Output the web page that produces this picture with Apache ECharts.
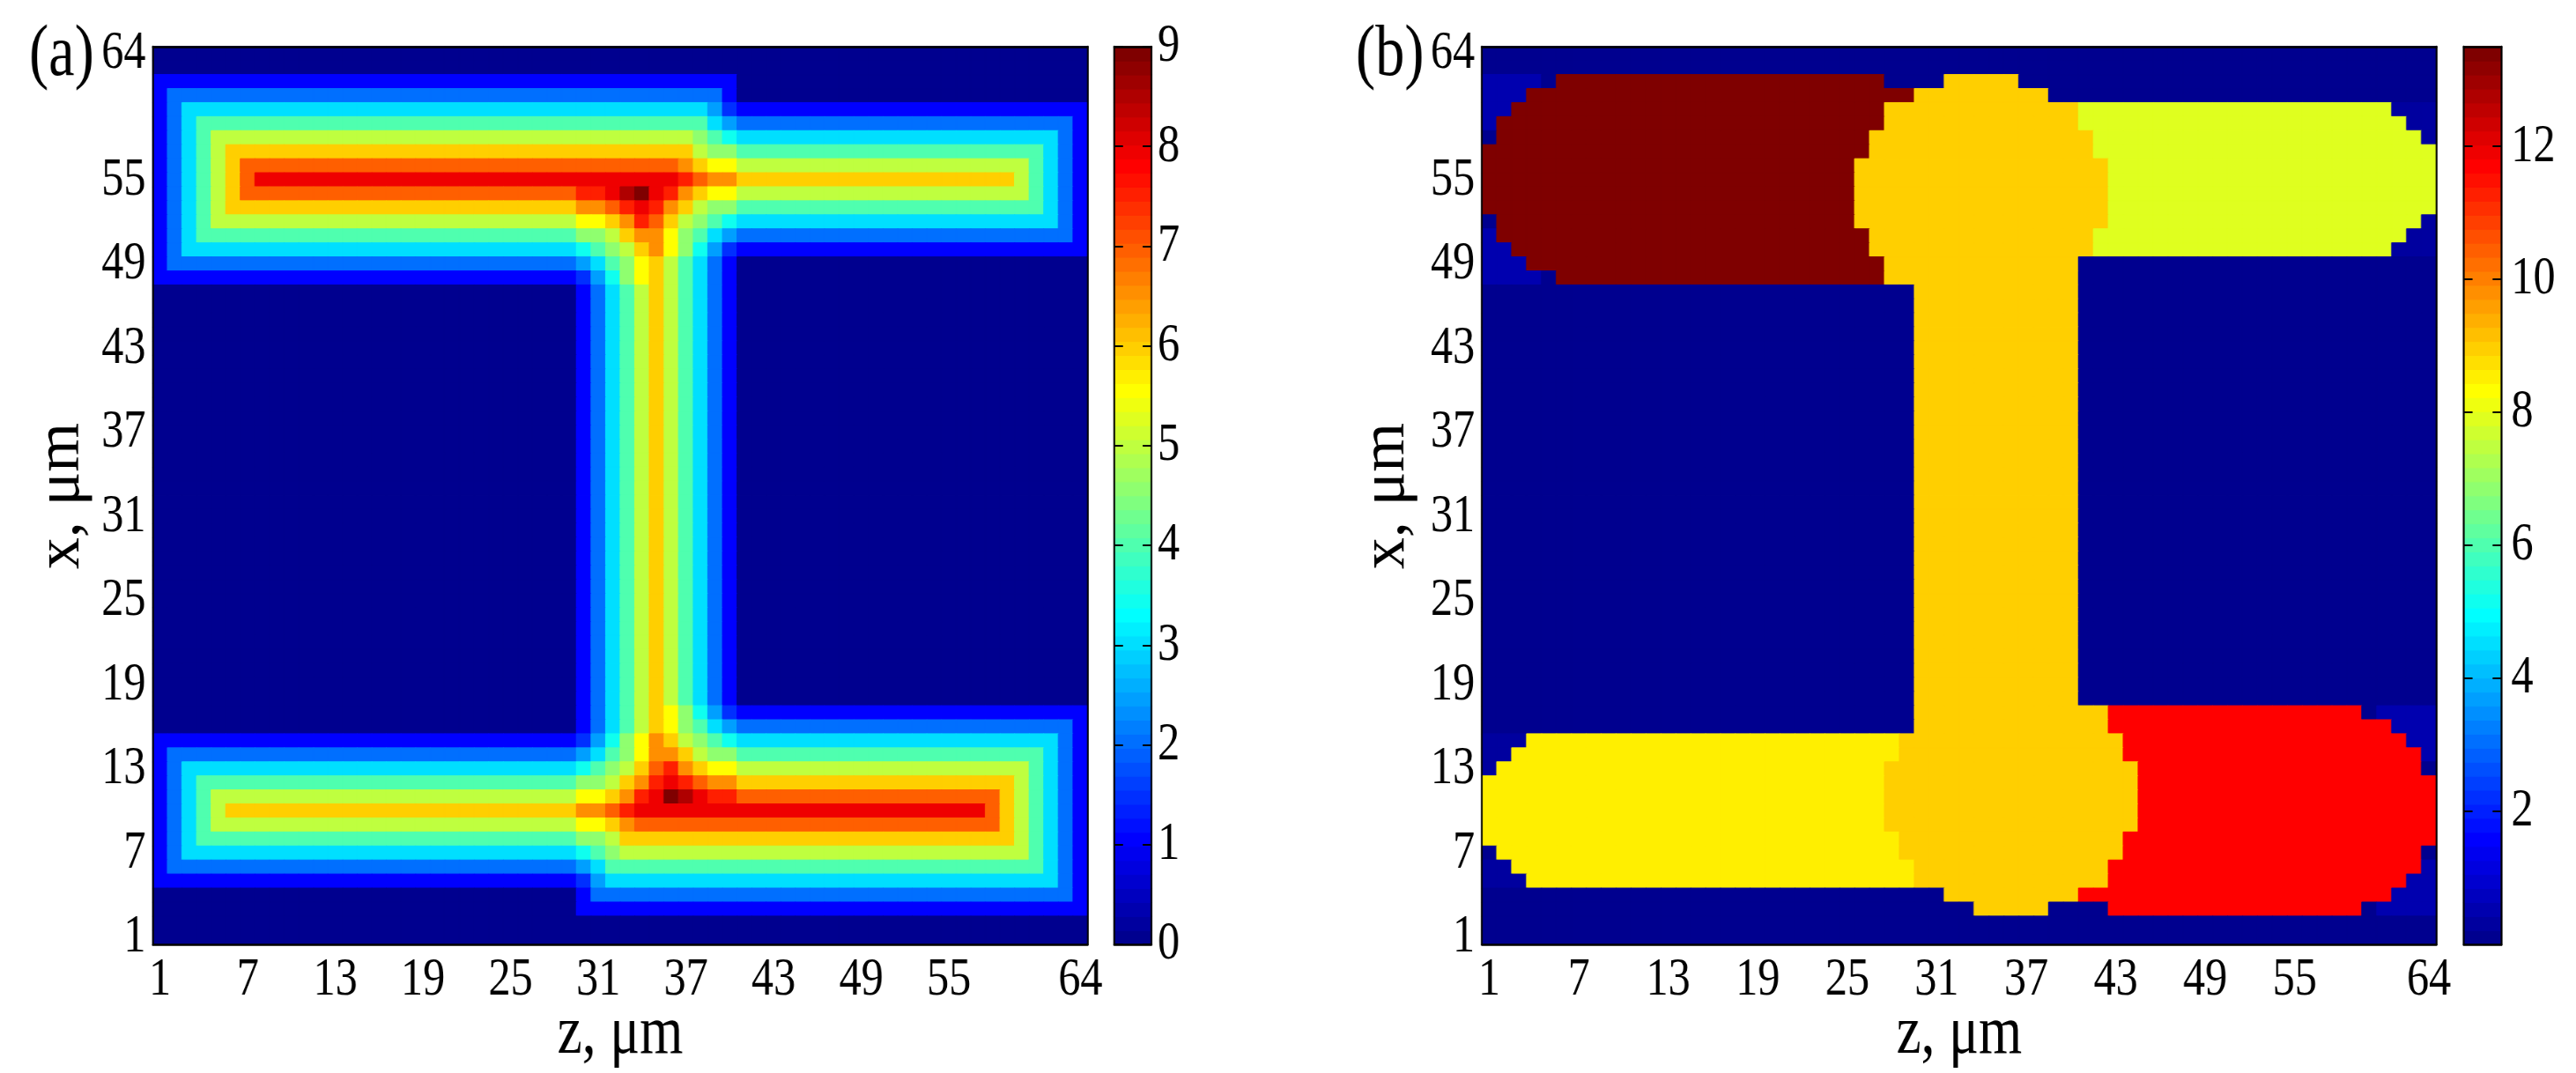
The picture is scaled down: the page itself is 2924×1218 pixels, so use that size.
<!DOCTYPE html>
<html>
<head>
<meta charset="utf-8">
<title>chart</title>
<script src="https://cdn.jsdelivr.net/npm/echarts@6/dist/echarts.min.js"></script>
<style>
html, body { margin: 0; padding: 0; background: #fff; overflow: hidden; width: 2924px; height: 1218px; }
/* the figure has tall narrow glyphs, so the whole chart is drawn wider and squeezed back */
#container { width: 3610px; height: 1218px; transform: scaleX(0.81); transform-origin: 0 0; }
</style>
</head>
<body>
<div id="container"></div>
<script>
var xTicks = [1, 7, 13, 19, 25, 31, 37, 43, 49, 55, 64];
var yTicks = [1, 7, 13, 19, 25, 31, 37, 43, 49, 55, 64];
var barTicksA = [0, 1, 2, 3, 4, 5, 6, 7, 8, 9];
var barTicksB = [2, 4, 6, 8, 10, 12];
var maxA = 9;
var maxB = 13.5;

// jet, 64 levels
var jet = [
	'#00008f','#00009f','#0000af','#0000bf','#0000cf','#0000df','#0000ef','#0000ff',
	'#000fff','#001fff','#002fff','#003fff','#004fff','#005fff','#006fff','#007fff',
	'#008fff','#009fff','#00afff','#00bfff','#00cfff','#00dfff','#00efff','#00ffff',
	'#0fffef','#1fffdf','#2fffcf','#3fffbf','#4fffaf','#5fff9f','#6fff8f','#7fff7f',
	'#8fff6f','#9fff5f','#afff4f','#bfff3f','#cfff2f','#dfff1f','#efff0f','#ffff00',
	'#ffef00','#ffdf00','#ffcf00','#ffbf00','#ffaf00','#ff9f00','#ff8f00','#ff7f00',
	'#ff6f00','#ff5f00','#ff4f00','#ff3f00','#ff2f00','#ff1f00','#ff0f00','#ff0000',
	'#ef0000','#df0000','#cf0000','#bf0000','#af0000','#9f0000','#8f0000','#7f0000'
];

// values behind the letters in the rows below
var levelsA = {a:0, b:1, c:1.5, d:2, e:2.5, f:3, g:3.5, h:4, i:4.5, j:5, k:5.5, l:6, m:6.5, n:7, o:7.5, p:8, q:8.5, r:9};
var levelsB = {a:0, c:0.3, b:0.5, d:7.9, e:8.5, f:9, g:11.7, h:13.5};

// rows from x=64 down to x=1, letter + run length along z
var stemA = 'a29 b d f h j l j h f d b a24';
var rowsA = [
	'a64', 'a64', 'b40 a24', 'b d38 b a24', 'b d f36 e c b24', 'b d f h35 f e d23 b',
	'b d f h j33 i h g f22 d b',
	'b d f h j l32 j i2 h21 f d b',
	'b d f h j l n30 m l k2 j20 h f d b',
	'b d f h j l n p29 o n m2 l19 j h f d b',
	'b d f h j l n23 o2 p q r p o m l k2 j20 h f d b',
	'b d f h j l24 m2 n o p o m l j i2 h21 f d b',
	'b d f h j25 k2 l m o n l j i h g f22 d b',
	'b d f h26 i2 j l m2 k i h f e d23 b',
	'b d f27 g h i j l m k i g e c b24',
	'b d28 e f h i k l j h f d b a24',
	'b29 c e g i k l j h f d b a24'
].concat(Array(30).fill(stemA), [
	'a29 b d f h j l k i g e c b24',
	'a29 b d f h j l k i h f e d23 b',
	'b29 c e g i k m l j i h g f22 d b',
	'b d28 e f h i k m2 l j i2 h21 f d b',
	'b d f27 g h i j l n o m l k2 j20 h f d b',
	'b d f h26 i2 j l m o p o n m2 l19 j h f d b',
	'b d f h j25 k2 l m o p r q p o2 n18 l j h f d b',
	'b d f h j l24 m2 n o p24 n l j h f d b',
	'b d f h j25 k2 l m n25 l j h f d b',
	'b d f h26 i2 j l27 j h f d b',
	'b d f27 g h i j28 h f d b',
	'b d28 e f h30 f d b',
	'b29 c e f31 d b',
	'a29 b d33 b',
	'a29 b35',
	'a64', 'a64'
]);

var stemB = 'a29 f11 a24';
var rowsB = [
	'a64', 'a64',
	'b4 a h22 a4 f5 a28',
	'b3 h26 f9 a26',
	'b2 h25 f13 d21 c3',
	'b h26 f13 d22 c2',
	'a h25 f15 d22 c',
	'h26 f15 d23',
	'h25 f17 d22', 'h25 f17 d22', 'h25 f17 d22', 'h25 f17 d22',
	'a h24 f17 d21 c',
	'b h25 f15 d21 c2',
	'b2 h24 f15 d20 c3',
	'b3 h24 f13 a24',
	'b4 a h22 f13 a24'
].concat(Array(30).fill(stemB), [
	'a29 f13 g17 a b4',
	'a29 f13 g19 b3',
	'c3 e25 f15 g19 b2',
	'c2 e26 f15 g20 b',
	'c e26 f17 g19 a',
	'e27 f17 g20', 'e27 f17 g20', 'e27 f17 g20', 'e27 f17 g20',
	'e28 f15 g21',
	'a e27 f15 g20 a',
	'c2 e27 f13 g21 b',
	'c3 e26 f13 g20 b2',
	'a31 f9 g21 b3',
	'a33 f5 a4 g17 a b4',
	'a64', 'a64'
]);

var squeeze = 0.81;
function px(x) { return x / squeeze; }

var cells = [];
for (var n = 1; n <= 64; n++) cells.push(String(n));

function colorOf(v, max) {
	return jet[Math.min(63, Math.floor(v / max * 64))];
}

// border in the cell's own colour closes the hairlines between cells
function cell(col, row, v, max) {
	return {value: [col, row, v], itemStyle: {borderWidth: 1, borderColor: colorOf(v, max)}};
}

function decode(rows, levels, max) {
	var out = [];
	rows.forEach(function(row, r){
		var col = 0;
		row.split(' ').forEach(function(run){
			var count = run.length > 1 ? parseInt(run.slice(1), 10) : 1;
			for (var k = 0; k < count; k++) {
				out.push(cell(col, 63 - r, levels[run[0]], max));
				col++;
			}
		});
		if (col != 64) throw new Error('bad row ' + r + ': ' + row);
	});
	return out;
}

function pieces(max) {
	return jet.map(function(c, i){
		var p = {gte: i * max / 64, color: c};
		if (i == 63) p.lte = max; else p.lt = (i + 1) * max / 64;
		return p;
	});
}

var fontName = '"Liberation Serif"';
var xAxis = [], yAxis = [], grid = [], series = [];
var black = {color: '#000', width: 2.5};
var tickStyle = {color: '#000', width: 2};

function addPanel(left, right, rows, levels, max) {
	var g = grid.length;
	grid.push({left: px(left), width: px(right - left), top: 53, height: 1019, containLabel: false, outerBoundsMode: 'none'});
	var xi = xAxis.length, yi = yAxis.length;
	var onX = function(i, v){ return xTicks.indexOf(+v) >= 0; };
	var onY = function(i, v){ return yTicks.indexOf(+v) >= 0; };
	xAxis.push({
		type: 'category', gridIndex: g, data: cells, position: 'bottom', z: 10,
		name: 'z, μm', nameLocation: 'middle', nameGap: 64, nameMoveOverlap: false,
		nameTextStyle: {fontFamily: fontName, fontSize: 78, color: '#000'},
		axisLine: {onZero: false, lineStyle: black},
		axisTick: {inside: true, length: 11, alignWithLabel: true, interval: onX, lineStyle: tickStyle},
		axisLabel: {interval: onX, margin: 10, fontFamily: fontName, fontSize: 62, color: '#000'},
		splitLine: {show: false}
	});
	xAxis.push({
		type: 'category', gridIndex: g, data: cells, position: 'top', z: 10,
		axisLine: {onZero: false, lineStyle: black},
		axisTick: {inside: true, length: 11, alignWithLabel: true, interval: onX, lineStyle: tickStyle},
		axisLabel: {show: false}, splitLine: {show: false}
	});
	yAxis.push({
		type: 'category', gridIndex: g, data: cells, position: 'left', z: 10,
		axisLine: {onZero: false, lineStyle: black},
		axisTick: {inside: true, length: px(10), alignWithLabel: true, interval: onY, lineStyle: tickStyle},
		axisLabel: {interval: onY, margin: px(8), fontFamily: fontName, fontSize: 62, color: '#000'},
		splitLine: {show: false}
	});
	yAxis.push({
		type: 'category', gridIndex: g, data: cells, position: 'right', z: 10,
		axisLine: {onZero: false, lineStyle: black},
		axisTick: {inside: true, length: px(10), alignWithLabel: true, interval: onY, lineStyle: tickStyle},
		axisLabel: {show: false}, splitLine: {show: false}
	});
	series.push({
		type: 'heatmap', xAxisIndex: xi, yAxisIndex: yi, data: decode(rows, levels, max),
		silent: true, progressive: 0, animation: false, emphasis: {disabled: true}
	});
}

function addBar(left, right, max, ticks, labelGap) {
	var g = grid.length;
	grid.push({left: px(left), width: px(right - left), top: 53, height: 1019, containLabel: false, outerBoundsMode: 'none'});
	var xi = xAxis.length, yi = yAxis.length;
	var plain = {show: false};
	xAxis.push({type: 'category', gridIndex: g, data: ['0'], position: 'bottom', z: 10,
		axisLine: {onZero: false, lineStyle: black}, axisTick: plain, axisLabel: plain, splitLine: plain});
	xAxis.push({type: 'category', gridIndex: g, data: ['0'], position: 'top', z: 10,
		axisLine: {onZero: false, lineStyle: black}, axisTick: plain, axisLabel: plain, splitLine: plain});
	// the cells sit on a hidden category axis, the ticks on two value axes
	yAxis.push({type: 'category', gridIndex: g, data: cells, show: false, position: 'left'});
	yAxis.push({type: 'value', gridIndex: g, min: 0, max: max, position: 'right', z: 10,
		axisLine: {show: true, onZero: false, lineStyle: black},
		axisTick: {show: true, inside: true, length: px(10), customValues: ticks, lineStyle: tickStyle},
		axisLabel: {customValues: ticks, margin: px(labelGap), fontFamily: fontName, fontSize: 62, color: '#000'},
		splitLine: plain});
	yAxis.push({type: 'value', gridIndex: g, min: 0, max: max, position: 'left', z: 10,
		axisLine: {show: true, onZero: false, lineStyle: black},
		axisTick: {show: true, inside: true, length: px(10), customValues: ticks, lineStyle: tickStyle},
		axisLabel: plain, splitLine: plain});
	series.push({
		type: 'heatmap', xAxisIndex: xi, yAxisIndex: yi,
		data: jet.map(function(c, i){ return cell(0, i, (i + 0.5) * max / 64, max); }),
		silent: true, progressive: 0, animation: false, emphasis: {disabled: true}
	});
}

addPanel(173.4, 1234.6, rowsA, levelsA, maxA);
addBar(1264.7, 1307, maxA, barTicksA, 7);
addPanel(1682, 2765.6, rowsB, levelsB, maxB);
addBar(2796.5, 2839.4, maxB, barTicksB, 11);

var option = {
	animation: false,
	backgroundColor: '#fff',
	textStyle: {fontFamily: fontName, color: '#000'},
	title: [
		{text: '(a)', left: px(33), top: 22, padding: 0, textStyle: {fontFamily: fontName, fontSize: 82, fontWeight: 'normal', color: '#000'}},
		{text: '(b)', left: px(1539), top: 22, padding: 0, textStyle: {fontFamily: fontName, fontSize: 82, fontWeight: 'normal', color: '#000'}}
	],
	grid: grid,
	xAxis: xAxis,
	yAxis: yAxis,
	visualMap: [
		{type: 'piecewise', show: false, dimension: 2, seriesIndex: [0, 1], pieces: pieces(maxA)},
		{type: 'piecewise', show: false, dimension: 2, seriesIndex: [2, 3], pieces: pieces(maxB)}
	],
	graphic: [
		{type: 'text', x: px(70), y: 563, rotation: Math.PI / 2, scaleY: 1 / squeeze, silent: true,
			style: {text: 'x, μm', font: '72px ' + fontName, fill: '#000', align: 'center', verticalAlign: 'middle'}},
		{type: 'text', x: px(1574), y: 563, rotation: Math.PI / 2, scaleY: 1 / squeeze, silent: true,
			style: {text: 'x, μm', font: '72px ' + fontName, fill: '#000', align: 'center', verticalAlign: 'middle'}}
	],
	series: series
};

var myChart = echarts.init(document.getElementById('container'));
myChart.setOption(option);
</script>
</body>
</html>
